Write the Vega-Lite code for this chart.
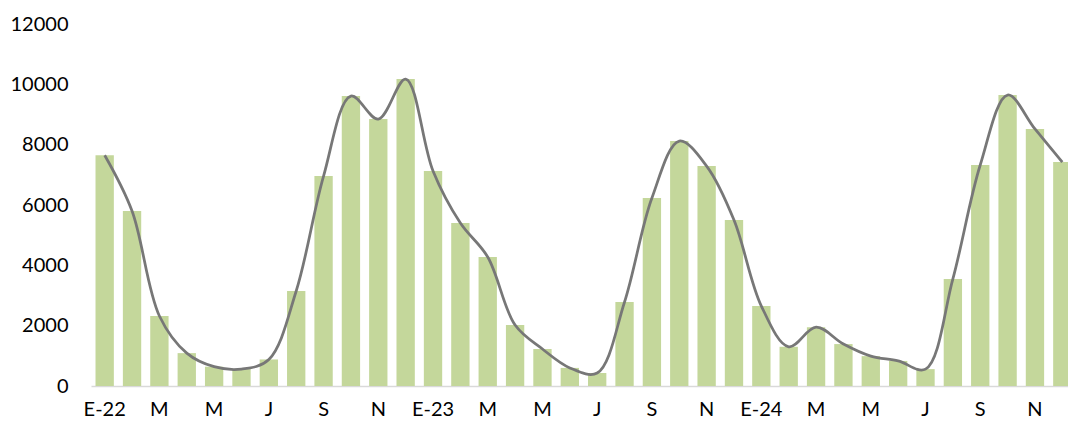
{
  "$schema": "https://vega.github.io/schema/vega-lite/v6.json",
  "autosize": "none",
  "width": 985,
  "height": 362,
  "padding": {"left": 91, "top": 24, "right": 0, "bottom": 40},
  "background": "white",
  "config": {"view": {"stroke": null}, "font": "Lato"},
  "data": {"values": [
    {"mes": "2022-01", "v": 7650},
    {"mes": "2022-02", "v": 5800},
    {"mes": "2022-03", "v": 2320},
    {"mes": "2022-04", "v": 1090},
    {"mes": "2022-05", "v": 640},
    {"mes": "2022-06", "v": 560},
    {"mes": "2022-07", "v": 880},
    {"mes": "2022-08", "v": 3150},
    {"mes": "2022-09", "v": 6960},
    {"mes": "2022-10", "v": 9610},
    {"mes": "2022-11", "v": 8850},
    {"mes": "2022-12", "v": 10175},
    {"mes": "2023-01", "v": 7126},
    {"mes": "2023-02", "v": 5400},
    {"mes": "2023-03", "v": 4275},
    {"mes": "2023-04", "v": 2020},
    {"mes": "2023-05", "v": 1226},
    {"mes": "2023-06", "v": 600},
    {"mes": "2023-07", "v": 430},
    {"mes": "2023-08", "v": 2785},
    {"mes": "2023-09", "v": 6230},
    {"mes": "2023-10", "v": 8120},
    {"mes": "2023-11", "v": 7290},
    {"mes": "2023-12", "v": 5500},
    {"mes": "2024-01", "v": 2650},
    {"mes": "2024-02", "v": 1300},
    {"mes": "2024-03", "v": 1950},
    {"mes": "2024-04", "v": 1390},
    {"mes": "2024-05", "v": 990},
    {"mes": "2024-06", "v": 830},
    {"mes": "2024-07", "v": 560},
    {"mes": "2024-08", "v": 3550},
    {"mes": "2024-09", "v": 7325},
    {"mes": "2024-10", "v": 9645},
    {"mes": "2024-11", "v": 8520},
    {"mes": "2024-12", "v": 7425}
  ]},
  "encoding": {
    "x": {
      "field": "mes", "type": "ordinal", "sort": null,
      "scale": {"paddingInner": 0.33, "paddingOuter": 0.165},
      "axis": {
        "title": null, "ticks": false, "grid": false,
        "domainColor": "#d9d9d9", "domainWidth": 1.5,
        "labelAngle": 0, "labelFontSize": 20, "labelColor": "#000000",
        "labelPadding": 13, "labelFont": "Lato",
        "labelExpr": "substring(datum.value,5,7)=='01' ? 'E-'+substring(datum.value,2,4) : (substring(datum.value,5,7)=='03' || substring(datum.value,5,7)=='05') ? 'M' : substring(datum.value,5,7)=='07' ? 'J' : substring(datum.value,5,7)=='09' ? 'S' : substring(datum.value,5,7)=='11' ? 'N' : ''"
      }
    },
    "y": {
      "field": "v", "type": "quantitative",
      "scale": {"domain": [0, 12000], "nice": false},
      "axis": {
        "title": null, "ticks": false, "grid": false, "domain": false,
        "values": [0, 2000, 4000, 6000, 8000, 10000, 12000],
        "format": "d", "labelFontSize": 20, "labelColor": "#000000",
        "labelPadding": 23, "labelFont": "Lato"
      }
    }
  },
  "layer": [
    {"mark": {"type": "bar", "color": "#c4d79b"}},
    {"mark": {"type": "line", "color": "#777777", "strokeWidth": 2.75, "interpolate": "catmull-rom"}}
  ]
}
